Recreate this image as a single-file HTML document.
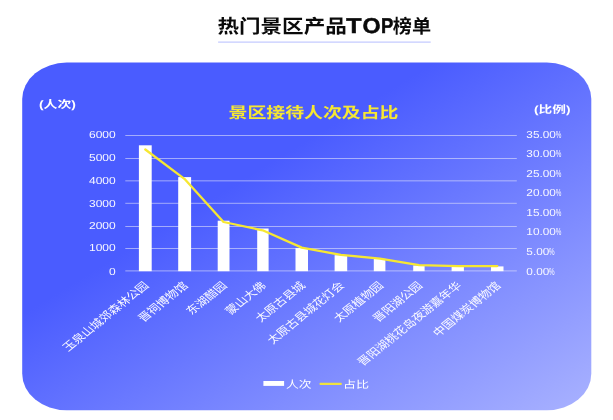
<!DOCTYPE html>
<html lang="zh-CN"><head><meta charset="utf-8"><title>热门景区产品TOP榜单</title>
<style>html,body{margin:0;padding:0;background:#fff;}body{width:613px;height:420px;overflow:hidden;font-family:"Liberation Sans","Noto Sans CJK SC",sans-serif;}svg{display:block;}svg text{font-family:"Liberation Sans","Noto Sans CJK SC",sans-serif;text-rendering:geometricPrecision;}svg{will-change:transform;}</style></head><body>
<svg width="613" height="420" viewBox="0 0 613 420">
<defs><linearGradient id="pg" x1="0" y1="0" x2="1" y2="1"><stop offset="0" stop-color="#4a5cff"/><stop offset="0.362" stop-color="#4a5cff"/><stop offset="1" stop-color="#a9b2ff"/></linearGradient></defs>
<rect width="613" height="420" fill="#fff"/>
<g id="title"><g><text x="217.4" y="33.2" font-size="19" font-weight="bold" fill="#0a0a0a" stroke="none" textLength="129.4" lengthAdjust="spacingAndGlyphs">热门景区产品</text></g><text y="33.1" font-size="21.4" font-weight="bold" fill="#0a0a0a" stroke="#0a0a0a" stroke-width="0.5"><tspan x="346.125" textLength="15.245" lengthAdjust="spacingAndGlyphs">T</tspan><tspan x="362.544" textLength="18.131" lengthAdjust="spacingAndGlyphs">O</tspan><tspan x="381.057" textLength="12.373" lengthAdjust="spacingAndGlyphs">P</tspan></text><g><text x="392.8" y="33.4" font-size="19" font-weight="bold" fill="#0a0a0a" stroke="none" textLength="38.3" lengthAdjust="spacingAndGlyphs">榜单</text></g></g>
<rect x="218.1" y="41.55" width="212.6" height="1.1" fill="#bcc3ff"/>
<rect x="22.2" y="62.6" width="569.1" height="347.7" rx="44.5" ry="36.5" fill="url(#pg)"/>
<g><text x="39" y="108" font-size="10.6" font-weight="bold" fill="#fff" stroke="none" textLength="37" lengthAdjust="spacingAndGlyphs">(人次)</text></g>
<g><text x="534" y="112.6" font-size="10.4" font-weight="bold" fill="#fff" stroke="none" textLength="36.5" lengthAdjust="spacingAndGlyphs">(比例)</text></g>
<g><text x="228.5" y="118.3" font-size="15.4" font-weight="bold" fill="#f6e732" stroke="none" textLength="170" lengthAdjust="spacingAndGlyphs">景区接待人次及占比</text></g>
<g stroke="#eeeefa" stroke-opacity="0.55" stroke-width="1">
<line x1="125.3" y1="270.9" x2="516.8" y2="270.9"/>
<line x1="125.3" y1="248.5" x2="516.8" y2="248.5"/>
<line x1="125.3" y1="226.5" x2="516.8" y2="226.5"/>
<line x1="125.3" y1="203.3" x2="516.8" y2="203.3"/>
<line x1="125.3" y1="180.85" x2="516.8" y2="180.85"/>
<line x1="125.3" y1="158.5" x2="516.8" y2="158.5"/>
<line x1="125.3" y1="135.5" x2="516.8" y2="135.5"/>
</g>
<g id="yl">
<text transform="translate(115.7 274.55) scale(1.18 1)" font-size="10.2" fill="#f8f8ff" text-anchor="end" font-weight="normal">0</text>
<text transform="translate(115.7 251.15) scale(1.18 1)" font-size="10.2" fill="#f8f8ff" text-anchor="end" font-weight="normal">1000</text>
<text transform="translate(115.7 228.95) scale(1.18 1)" font-size="10.2" fill="#f8f8ff" text-anchor="end" font-weight="normal">2000</text>
<text transform="translate(115.7 206.55) scale(1.18 1)" font-size="10.2" fill="#f8f8ff" text-anchor="end" font-weight="normal">3000</text>
<text transform="translate(115.7 183.65) scale(1.18 1)" font-size="10.2" fill="#f8f8ff" text-anchor="end" font-weight="normal">4000</text>
<text transform="translate(115.7 161.05) scale(1.18 1)" font-size="10.2" fill="#f8f8ff" text-anchor="end" font-weight="normal">5000</text>
<text transform="translate(115.7 137.55) scale(1.18 1)" font-size="10.2" fill="#f8f8ff" text-anchor="end" font-weight="normal">6000</text>
</g>
<g id="yr">
<text transform="translate(526.35 274.6) scale(1.16 1)" font-size="10.2" fill="#f8f8ff">0.00<tspan dx="-0.259" textLength="4.847" lengthAdjust="spacingAndGlyphs">%</tspan></text>
<text transform="translate(526.35 255.04) scale(1.16 1)" font-size="10.2" fill="#f8f8ff">5.00<tspan dx="-0.259" textLength="4.847" lengthAdjust="spacingAndGlyphs">%</tspan></text>
<text transform="translate(526.35 235.48) scale(1.16 1)" font-size="10.2" fill="#f8f8ff">10.00<tspan dx="-0.259" textLength="4.847" lengthAdjust="spacingAndGlyphs">%</tspan></text>
<text transform="translate(526.35 215.92) scale(1.16 1)" font-size="10.2" fill="#f8f8ff">15.00<tspan dx="-0.259" textLength="4.847" lengthAdjust="spacingAndGlyphs">%</tspan></text>
<text transform="translate(526.35 196.36) scale(1.16 1)" font-size="10.2" fill="#f8f8ff">20.00<tspan dx="-0.259" textLength="4.847" lengthAdjust="spacingAndGlyphs">%</tspan></text>
<text transform="translate(526.35 176.8) scale(1.16 1)" font-size="10.2" fill="#f8f8ff">25.00<tspan dx="-0.259" textLength="4.847" lengthAdjust="spacingAndGlyphs">%</tspan></text>
<text transform="translate(526.35 157.24) scale(1.16 1)" font-size="10.2" fill="#f8f8ff">30.00<tspan dx="-0.259" textLength="4.847" lengthAdjust="spacingAndGlyphs">%</tspan></text>
<text transform="translate(526.35 137.68) scale(1.16 1)" font-size="10.2" fill="#f8f8ff">35.00<tspan dx="-0.259" textLength="4.847" lengthAdjust="spacingAndGlyphs">%</tspan></text>
</g>
<g fill="#fff">
<rect x="138.9" y="145.3" width="12.8" height="125.9"/>
<rect x="178.2" y="177.1" width="12.9" height="94.1"/>
<rect x="217.7" y="220.7" width="11.8" height="50.5"/>
<rect x="257.2" y="228.5" width="11.4" height="42.7"/>
<rect x="295.5" y="248.1" width="12.5" height="23.1"/>
<rect x="334.6" y="255.2" width="12.6" height="16"/>
<rect x="373.8" y="258.9" width="11.6" height="12.3"/>
<rect x="413.2" y="265.5" width="11.4" height="5.7"/>
<rect x="451.6" y="266.5" width="12.3" height="4.7"/>
<rect x="491" y="266.4" width="12.5" height="4.8"/>
</g>
<polyline points="145.3,149.5 184.41,178.8 223.52,222 262.63,230.3 301.74,247.6 340.85,254.8 379.96,258.6 419.07,265.1 458.18,266.1 497.29,266.1" fill="none" stroke="#f6e732" stroke-width="2.3" stroke-linejoin="round" stroke-linecap="round"/>
<g id="cats">
<g transform="translate(149.6 286.2) scale(1.244 1) rotate(-45)"><text x="0" y="0" text-anchor="end" font-size="10.3" fill="#fafaff">玉泉山城郊森林公园</text></g>
<g transform="translate(188.71 286.2) scale(1.244 1) rotate(-45)"><text x="0" y="0" text-anchor="end" font-size="10.3" fill="#fafaff">晋祠博物馆</text></g>
<g transform="translate(227.82 286.2) scale(1.244 1) rotate(-45)"><text x="0" y="0" text-anchor="end" font-size="10.3" fill="#fafaff">东湖醋园</text></g>
<g transform="translate(266.93 286.2) scale(1.244 1) rotate(-45)"><text x="0" y="0" text-anchor="end" font-size="10.3" fill="#fafaff">蒙山大佛</text></g>
<g transform="translate(306.04 286.2) scale(1.244 1) rotate(-45)"><text x="0" y="0" text-anchor="end" font-size="10.3" fill="#fafaff">太原古县城</text></g>
<g transform="translate(345.15 286.2) scale(1.244 1) rotate(-45)"><text x="0" y="0" text-anchor="end" font-size="10.3" fill="#fafaff">太原古县城花灯会</text></g>
<g transform="translate(384.26 286.2) scale(1.244 1) rotate(-45)"><text x="0" y="0" text-anchor="end" font-size="10.3" fill="#fafaff">太原植物园</text></g>
<g transform="translate(423.37 286.2) scale(1.244 1) rotate(-45)"><text x="0" y="0" text-anchor="end" font-size="10.3" fill="#fafaff">晋阳湖公园</text></g>
<g transform="translate(462.48 286.2) scale(1.244 1) rotate(-45)"><text x="0" y="0" text-anchor="end" font-size="10.3" fill="#fafaff">晋阳湖桃花岛夜游嘉年华</text></g>
<g transform="translate(501.59 286.2) scale(1.244 1) rotate(-45)"><text x="0" y="0" text-anchor="end" font-size="10.3" fill="#fafaff">中国煤炭博物馆</text></g>
</g>
<g id="legend">
<rect x="263.4" y="381" width="20.7" height="4.9" fill="#fff"/>
<g><text x="286" y="387.8" font-size="10.3" fill="#fff" stroke="none" textLength="25.6" lengthAdjust="spacingAndGlyphs">人次</text></g>
<line x1="320.5" y1="383.95" x2="340.8" y2="383.95" stroke="#f6e732" stroke-opacity="0.93" stroke-width="2.2" stroke-linecap="round"/>
<g><text x="342.9" y="387.8" font-size="10" fill="#fff" stroke="none" textLength="26.1" lengthAdjust="spacingAndGlyphs">占比</text></g>
</g>
</svg></body></html>
